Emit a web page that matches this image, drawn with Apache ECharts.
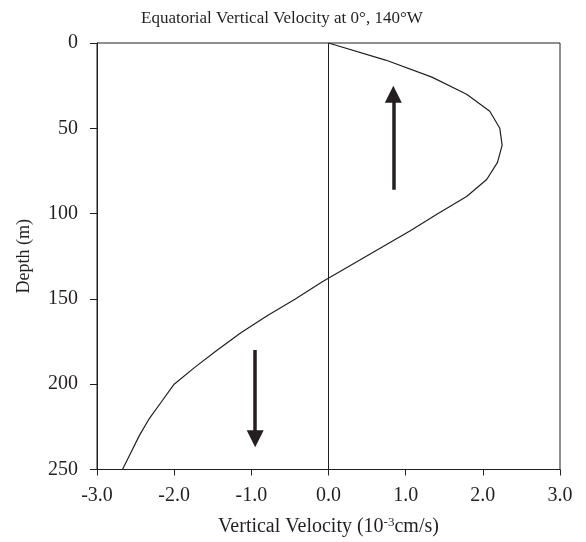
<!DOCTYPE html>
<html>
<head>
<meta charset="utf-8">
<script src="https://cdn.jsdelivr.net/npm/echarts@6/dist/echarts.min.js"></script>
<style>
  html, body { margin: 0; padding: 0; background: #fff; }
  #chart { width: 586px; height: 542px; }
</style>
</head>
<body>
<div id="chart"></div>
<script>
// depth (m) and vertical velocity (10^-3 cm/s)
var depths = [0, 10, 20, 30, 40, 50, 60, 70, 80, 90, 100, 110, 120, 130, 140, 150, 160, 170, 180, 190, 200, 210, 220, 230, 240, 250];
var velocity = [0.0, 0.74, 1.34, 1.79, 2.09, 2.22, 2.25, 2.19, 2.05, 1.79, 1.42, 1.06, 0.68, 0.30, -0.08, -0.43, -0.80, -1.14, -1.44, -1.73, -2.00, -2.16, -2.32, -2.45, -2.56, -2.67];
var xTicks = [-3, -2, -1, 0, 1, 2, 3];
var yTicks = [0, 50, 100, 150, 200, 250];
// upwelling / downwelling arrows: [velocity, depth] from tail to head
var upArrow = [[0.84, 86], [0.84, 30]];
var downArrow = [[-0.95, 180], [-0.95, 232]];

var ink = '#231f20';
var serif = '"Liberation Serif", "Times New Roman", serif';

var myChart = echarts.init(document.getElementById('chart'));

var curve = [];
for (var i = 0; i < depths.length; i++) {
    curve.push([velocity[i], depths[i]]);
}

var option = {
    animation: false,
    backgroundColor: '#fff',
    title: {
        text: 'Equatorial Vertical Velocity at 0°, 140°W',
        left: 136,
        top: 5,
        textStyle: { fontFamily: serif, fontSize: 17, fontWeight: 'normal', color: ink }
    },
    grid: {
        left: 97, right: 26, top: 43, bottom: 72,
        show: true, borderColor: ink, borderWidth: 1
    },
    xAxis: {
        type: 'value',
        min: xTicks[0], max: xTicks[xTicks.length - 1], interval: 1,
        name: 'Vertical Velocity (10{sup|-3}cm/s)',
        nameLocation: 'middle',
        nameGap: 47,
        nameTextStyle: {
            fontFamily: serif, fontSize: 20, color: ink,
            rich: { sup: { fontFamily: serif, fontSize: 13, color: ink, verticalAlign: 'top', padding: [0, 0, 8, 0] } }
        },
        axisLine: { onZero: false, lineStyle: { color: ink, width: 1 } },
        axisTick: { show: true, inside: false, length: 6, lineStyle: { color: ink } },
        axisLabel: { fontFamily: serif, fontSize: 20, color: ink, margin: 16, formatter: function (v) { return v.toFixed(1); } },
        splitLine: { show: false }
    },
    yAxis: {
        type: 'value',
        inverse: true,
        min: yTicks[0], max: yTicks[yTicks.length - 1], interval: 50,
        name: 'Depth (m)',
        nameLocation: 'middle',
        nameGap: 64,
        nameTextStyle: { fontFamily: serif, fontSize: 18, color: ink },
        axisLine: { onZero: false, lineStyle: { color: ink, width: 1 } },
        axisTick: { show: true, inside: false, length: 7, lineStyle: { color: ink } },
        axisLabel: { fontFamily: serif, fontSize: 20, color: ink, margin: 19 },
        splitLine: { show: false }
    },
    series: [
        {
            type: 'line',
            data: curve,
            showSymbol: false,
            smooth: false,
            lineStyle: { color: ink, width: 1.2 },
            markLine: {
                silent: true,
                symbol: 'none',
                label: { show: false },
                lineStyle: { color: ink, width: 1, type: 'solid' },
                data: [{ xAxis: 0 }]
            }
        },
        {
            type: 'lines',
            coordinateSystem: 'cartesian2d',
            symbol: ['none', 'triangle'],
            symbolSize: [14, 17],
            lineStyle: { color: ink, width: 3.5, opacity: 1 },
            itemStyle: { color: ink },
            data: [
                { coords: upArrow },
                { coords: downArrow }
            ]
        }
    ]
};

myChart.setOption(option);
</script>
</body>
</html>
